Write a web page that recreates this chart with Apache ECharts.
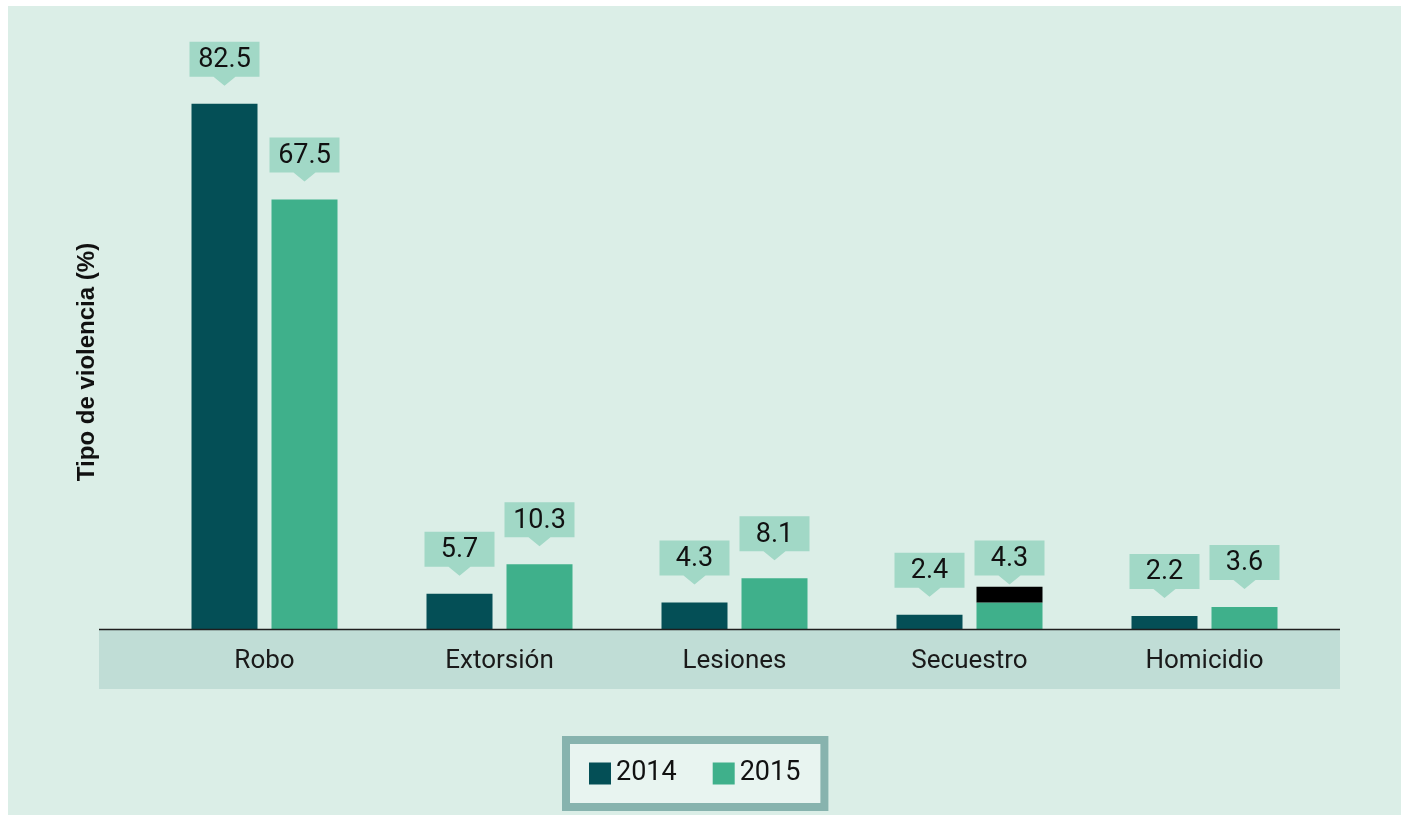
<!DOCTYPE html>
<html>
<head>
<meta charset="utf-8">
<script src="https://cdn.jsdelivr.net/npm/echarts@6/dist/echarts.min.js"></script>
<style>
    html, body { margin: 0; padding: 0; background: #fff; }
    #chart { width: 1401px; height: 815px; }
</style>
</head>
<body>
<div id="chart"></div>
<script>
    // datos
    const categories = ['Robo', 'Extorsión', 'Lesiones', 'Secuestro', 'Homicidio']
    const legendNames = ['2014', '2015']
    const values2014 = [82.5, 5.7, 4.3, 2.4, 2.2]
    const values2015 = [67.5, 10.3, 8.1, 4.3, 3.6]
    // bloque negro encima de la barra 2015 de Secuestro
    const blackBlock = [null, null, null, 2.5, null]

    const colors = ['#044f56', '#3fb08b']
    const barWidth = 66
    const barGapPx = 14

    // cajas de etiqueta: [categoria, valor, serie]
    let labelData = []
    values2014.forEach((v, i) => labelData.push([i, v, -1]))
    values2015.forEach((v, i) => labelData.push([i, v, 1]))

    let myChart = echarts.init(document.getElementById('chart'))

    function renderLabel(params, api) {
        let pt = api.coord([api.value(0), api.value(1)])
        let x = pt[0] + api.value(2) * (barWidth + barGapPx) / 2
        let tip = pt[1] - 18
        let boxW = 70, boxH = 35, triH = 9, triW = 11
        let bottom = tip - triH
        return {
            type: 'group',
            children: [{
                type: 'polygon',
                shape: {
                    points: [
                        [x - boxW / 2, bottom - boxH], [x + boxW / 2, bottom - boxH],
                        [x + boxW / 2, bottom], [x + triW, bottom], [x, tip],
                        [x - triW, bottom], [x - boxW / 2, bottom]
                    ]
                },
                style: { fill: '#a1d8c6' }
            }, {
                type: 'text',
                x: x,
                y: bottom - boxH / 2 + 1,
                style: {
                    text: String(api.value(1)),
                    fill: '#111',
                    font: '27px Roboto',
                    align: 'center',
                    verticalAlign: 'middle'
                }
            }]
        }
    }

    let options = {
        animation: false,
        graphic: [{
            type: 'rect',
            z: -10,
            shape: { x: 8, y: 6, width: 1393, height: 809 },
            style: { fill: '#dbeee7' }
        }, {
            type: 'rect',
            z: -5,
            shape: { x: 99, y: 630, width: 1241, height: 59 },
            style: { fill: '#c0ddd6' }
        }, {
            type: 'line',
            z: 10,
            shape: { x1: 99, y1: 629.5, x2: 1340, y2: 629.5 },
            style: { stroke: '#1e1e1e', lineWidth: 1.5 }
        }, {
            type: 'text',
            x: 87,
            y: 362,
            rotation: Math.PI / 2,
            style: {
                text: 'Tipo de violencia (%)',
                fill: '#111',
                font: 'bold 24px "Liberation Sans"',
                align: 'center',
                verticalAlign: 'middle'
            }
        }],
        legend: {
            data: legendNames,
            icon: 'rect',
            itemWidth: 22,
            itemHeight: 22,
            itemGap: 36,
            left: 566,
            top: 740,
            padding: [20, 24, 20, 23],
            backgroundColor: '#e8f4f0',
            borderColor: '#87b3ae',
            borderWidth: 8,
            textStyle: {
                fontSize: 27,
                fontFamily: 'Roboto',
                color: '#111'
            }
        },
        grid: {
            left: 147,
            width: 1175,
            top: 56,
            bottom: 185
        },
        xAxis: {
            type: 'category',
            data: categories,
            axisLine: { show: false },
            axisTick: { show: false },
            axisLabel: {
                margin: 18,
                fontSize: 26,
                fontFamily: 'Roboto',
                color: '#1a1a1a'
            }
        },
        yAxis: {
            type: 'value',
            min: 0,
            max: 90,
            show: false
        },
        series: [{
            name: '2014',
            type: 'bar',
            barWidth: barWidth,
            barGap: (barGapPx / barWidth * 100) + '%',
            itemStyle: { color: colors[0] },
            data: values2014
        }, {
            name: '2015',
            type: 'bar',
            stack: 'b',
            barWidth: barWidth,
            itemStyle: { color: colors[1] },
            data: values2015
        }, {
            name: 'extra',
            type: 'bar',
            stack: 'b',
            barWidth: barWidth,
            itemStyle: { color: '#000' },
            data: blackBlock
        }, {
            type: 'custom',
            renderItem: renderLabel,
            z: 5,
            data: labelData
        }]
    }
    myChart.setOption(options)
</script>
</body>
</html>
